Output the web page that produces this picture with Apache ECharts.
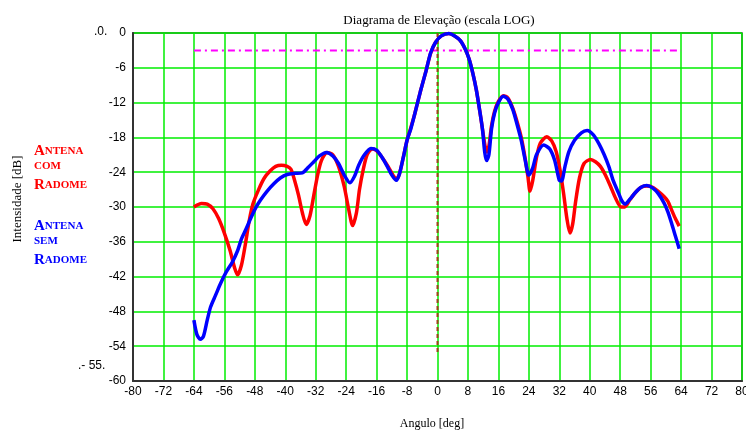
<!DOCTYPE html>
<html>
<head>
<meta charset="utf-8">
<script src="https://cdn.jsdelivr.net/npm/echarts@6/dist/echarts.min.js"></script>
<style>html,body{margin:0;padding:0;background:#fff}#c{width:746px;height:432px}</style>
</head>
<body>
<div id="c"></div>
<script>
// Angle (deg), intensity (dB) — Antena com radome (red)
const comRadomeAngles = [-64,-62,-60.5,-59,-57.5,-56,-54.5,-53.3,-52.5,-51.5,-50.5,-49.5,-48.5,-47,-45.5,-44,-42.5,-41,-39.5,-38.5,-37.5,-36.5,-35.5,-34.5,-33.5,-32.5,-31.5,-30.5,-29,-27.5,-26,-24.5,-23.3,-22.3,-21.3,-20.5,-19.5,-18.5,-17.2,-16,-14.5,-13,-11.7,-10.8,-10,-9,-8,-7,-6,-4.5,-3,-1.8,-0.5,1,3,4.5,6,7.3,8.3,9.3,10.2,11,11.8,12.5,13,13.5,14.2,15,16,17.3,18.5,19.8,21,22,23,23.8,24.3,25,26,27,28.7,30,31.2,32.3,33.2,34,34.8,35.5,36.3,37.3,38.5,40.2,41.5,42.8,44.2,45.5,46.8,48.2,49.2,50.5,52,53.5,55,56.5,58,59.5,60.5,61.5,62.5,63.5];
const comRadomeDb = [-30,-29.4,-29.5,-30.3,-32,-34.5,-37.5,-40.5,-41.7,-40,-36.5,-32.5,-29.5,-27,-25,-23.8,-23,-22.8,-23,-23.5,-25.5,-28,-31,-33,-31.5,-28,-24.5,-22,-20.6,-21,-23,-26.5,-30.5,-33.2,-31,-27,-23.5,-21,-20,-20.3,-21.5,-23,-24.5,-25.2,-24.3,-21.5,-18.5,-16.3,-14,-10.1,-6.5,-3.5,-1.6,-0.5,-0.1,-0.5,-1.3,-2.8,-4.5,-7,-9.8,-13,-16.5,-19.5,-20.5,-19.5,-16,-13.5,-11.8,-10.8,-11.2,-13,-15.5,-18,-21.5,-25,-27.3,-25.5,-21.5,-19,-17.9,-18.6,-20.5,-24,-28,-32,-34.5,-33,-29,-25,-22.5,-21.8,-22.2,-23,-24.6,-26.5,-28.5,-30,-30,-28.8,-27.5,-26.6,-26.4,-26.6,-27.3,-28.2,-29,-30.5,-32,-33.3];

// Antena sem radome (blue)
const semRadomeAngles = [-64,-63.2,-62.3,-61.5,-60.5,-59.6,-58.3,-57,-55.5,-53.9,-52.5,-51.5,-50.3,-49.1,-47.8,-46.5,-44.8,-43,-41.3,-39.5,-37.5,-35.5,-34,-32.5,-31,-29.2,-27.5,-26,-24.5,-23,-21.8,-20.7,-19.2,-17.5,-16,-14.5,-13.2,-12,-10.8,-10,-9,-8,-7,-6,-4.5,-3,-1.8,-0.5,1,3,4.5,6,7.3,8.3,9.3,10.2,11,11.8,12.4,12.9,13.5,14.2,15,16,17.3,18.5,19.8,21,22,23,24,25,26,27.9,29.5,30.8,32,32.6,33.5,34.5,36,37.8,39.3,41,42.5,43.8,45,46.2,47.5,48.5,49.3,50.5,52,53.5,55,56.5,58,59.5,60.5,61.5,62.5,63.5];
const semRadomeDb = [-49.5,-52,-52.8,-52.3,-49.5,-47.2,-45.2,-43.2,-41.2,-39.5,-37.5,-35.5,-33.8,-32,-30.2,-28.8,-27.3,-26,-25,-24.4,-24.2,-24.1,-23.2,-22.2,-21.2,-20.6,-21.2,-22.5,-24.5,-25.8,-24.7,-22.8,-21,-19.9,-20.2,-21.5,-23,-24.5,-25.4,-24.3,-21.5,-18.5,-16.5,-14,-10.1,-6.5,-3.4,-1.6,-0.5,-0.1,-0.5,-1.3,-2.8,-4.5,-7,-9.8,-13,-16.5,-20.5,-22,-21,-16.5,-13.8,-12,-10.9,-11.4,-13.2,-16,-18.5,-21.8,-24.5,-23.3,-21,-19.3,-20,-22,-25.4,-25.5,-23,-20.5,-18.5,-17.2,-16.8,-17.6,-19.2,-21,-23,-25.5,-27.5,-29,-29.5,-28.7,-27.5,-26.6,-26.3,-26.7,-27.7,-29.3,-30.8,-32.8,-35,-37.2];

// Reference lines
const halfPowerLine = [[-64, -3], [64, -3]];
const centerLine = [[0, 0], [0, -55]];

const xTicks = {min: -80, max: 80, interval: 8};
const yTicks = {min: -60, max: 0, interval: 6};

const zip = (a, b) => a.map((v, i) => [v, b[i]]);

const chart = echarts.init(document.getElementById('c'), null, {renderer: 'canvas'});
const serif = '"Liberation Serif", "DejaVu Serif", serif';
const sans = '"Liberation Sans", Arial, sans-serif';

function capsText(lines, color, x, y0, dy) {
  return lines.map((ln, i) => ({
    type: 'text', left: x, top: y0 + i * dy,
    style: {
      text: ln.map(p => '{' + p[0] + '|' + p[1] + '}').join(''),
      rich: {
        b: {fontFamily: serif, fontWeight: 'bold', fontSize: 15, fill: color},
        s: {fontFamily: serif, fontWeight: 'bold', fontSize: 11, fill: color}
      }
    }
  }));
}

chart.setOption({
  animation: false,
  backgroundColor: '#ffffff',
  grid: {left: 133, right: 4, top: 33, bottom: 51, outerBoundsMode: 'none', containLabel: false,
         show: true, borderColor: '#333', borderWidth: 1.5, backgroundColor: 'transparent'},
  xAxis: {
    type: 'value', min: xTicks.min, max: xTicks.max, interval: xTicks.interval,
    axisLine: {show: true, onZero: false, lineStyle: {color: '#333', width: 2}},
    axisTick: {show: false},
    axisLabel: {color: '#000', fontFamily: sans, fontSize: 12, margin: 5},
    splitLine: {show: true, lineStyle: {color: '#00ee00', width: 1.5}}
  },
  yAxis: {
    type: 'value', min: yTicks.min, max: yTicks.max, interval: yTicks.interval,
    axisLine: {show: true, onZero: false, lineStyle: {color: '#333', width: 2}},
    axisTick: {show: false},
    axisLabel: {color: '#000', fontFamily: sans, fontSize: 12, margin: 7},
    splitLine: {show: true, lineStyle: {color: '#00ee00', width: 1.5}}
  },
  series: [
    {type: 'line', data: halfPowerLine, symbol: 'none', silent: true,
     lineStyle: {color: '#ff00ff', width: 2, type: [7, 4, 2, 4]}},
    {type: 'line', data: centerLine, symbol: 'none', silent: true,
     lineStyle: {color: '#a0401a', width: 2, type: [4, 3]}},
    {type: 'line', data: zip(comRadomeAngles, comRadomeDb), symbol: 'none', smooth: 0.25,
     lineStyle: {color: '#ff0000', width: 3.5}},
    {type: 'line', data: zip(semRadomeAngles, semRadomeDb), symbol: 'none', smooth: 0.25,
     lineStyle: {color: '#0000ff', width: 3.5}}
  ],
  graphic: [
    {type: 'text', x: 439, y: 14, style: {text: 'Diagrama de Elevação (escala LOG)', fontFamily: serif, fontSize: 13, fill: '#000', textAlign: 'center', textVerticalAlign: 'top'}},
    {type: 'text', x: 432, y: 418, style: {text: 'Angulo [deg]', fontFamily: serif, fontSize: 12, fill: '#000', textAlign: 'center', textVerticalAlign: 'top'}},
    {type: 'text', x: 11, y: 199, rotation: Math.PI / 2, style: {text: 'Intensidade [dB]', fontFamily: serif, fontSize: 13, fill: '#000', textAlign: 'center', textVerticalAlign: 'top'}},
    {type: 'text', left: 94, top: 26, style: {text: '.0.', fontFamily: sans, fontSize: 12, fill: '#000'}},
    {type: 'text', left: 78, top: 360, style: {text: '.- 55.', fontFamily: sans, fontSize: 12, fill: '#000'}},
    ...capsText([[['b','A'],['s','NTENA']], [['s','COM']], [['b','R'],['s','ADOME']]], '#ff0000', 34, 144, 17),
    ...capsText([[['b','A'],['s','NTENA']], [['s','SEM']], [['b','R'],['s','ADOME']]], '#0000ff', 34, 219, 17)
  ]
});
</script>
</body>
</html>
